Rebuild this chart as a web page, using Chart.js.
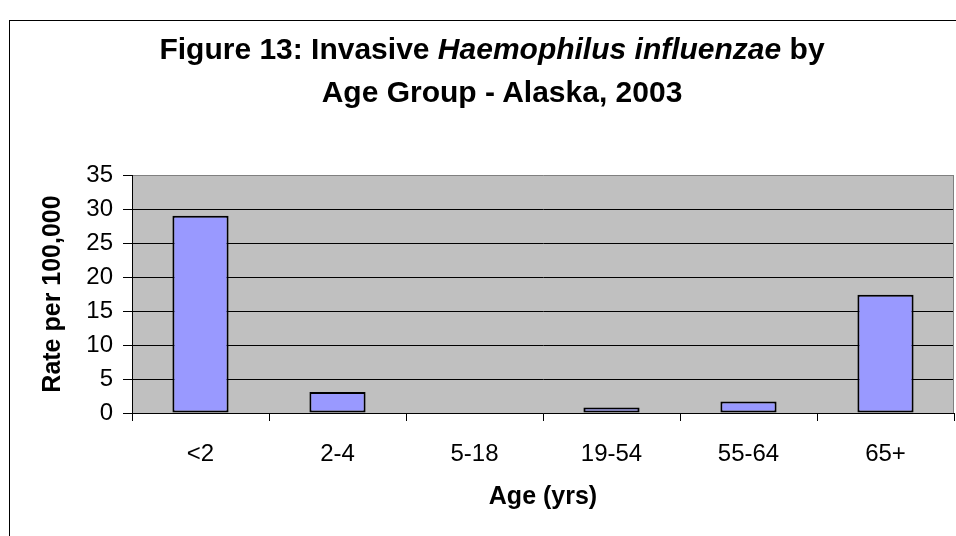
<!DOCTYPE html>
<html>
<head>
<meta charset="utf-8">
<script src="https://cdn.jsdelivr.net/npm/chart.js@4"></script>
<style>
  body { margin: 0; background: #fff; overflow: hidden; }
  #wrap { position: relative; width: 956px; height: 536px; }
  #titulo {
    position: absolute; left: 0; top: 27px; width: 994px;
    text-align: center; font-family: "Liberation Sans", Arial, sans-serif;
    font-weight: bold; font-size: 30px; line-height: 43px; color: #000;
  }
  #titulo div { position: relative; }
  canvas { position: absolute; left: 0; top: 0; }
</style>
</head>
<body>
<div id="wrap">
  <canvas id="myChart" width="956" height="536"></canvas>
  <div id="titulo">
    <div style="left:-5px">Figure 13: Invasive <i>Haemophilus influenzae</i> by</div>
    <div style="left:5px">Age Group - Alaska, 2003</div>
  </div>
</div>
<script>
// datos
const grupos = ['<2', '2-4', '5-18', '19-54', '55-64', '65+']
const tasas = [29.0, 3.1, 0, 0.8, 1.7, 17.4]
const marcasY = [0, 5, 10, 15, 20, 25, 30, 35]

const fuente = '"Liberation Sans", Arial, sans-serif'

// fondo gris del area y marco exterior
const fondo = {
    id: 'fondo',
    beforeDraw(chart) {
        const ctx = chart.ctx
        const a = chart.chartArea
        ctx.save()
        ctx.strokeStyle = '#000'
        ctx.lineWidth = 1
        ctx.strokeRect(9.5, 20.5, 1000, 1000)
        ctx.fillStyle = '#c0c0c0'
        ctx.fillRect(a.left, a.top, a.right - a.left, a.bottom - a.top)
        ctx.restore()
    },
    afterDatasetsDraw(chart) {
        const ctx = chart.ctx
        const a = chart.chartArea
        ctx.save()
        ctx.strokeStyle = '#808080'
        ctx.lineWidth = 1
        ctx.beginPath()
        ctx.moveTo(a.right - 0.5, a.top)
        ctx.lineTo(a.right - 0.5, a.bottom)
        ctx.stroke()
        ctx.restore()
    }
}

const config = {
    type: 'bar',
    data: {
        labels: grupos,
        datasets: [{
            data: tasas,
            backgroundColor: '#9999ff',
            borderColor: '#000',
            borderWidth: 2,
            borderSkipped: false,
            categoryPercentage: 1,
            barPercentage: 0.41
        }]
    },
    options: {
        responsive: false,
        animation: false,
        layout: { padding: { top: 175, right: 2, bottom: 14, left: 0 } },
        plugins: {
            legend: { display: false },
            tooltip: { enabled: false }
        },
        scales: {
            x: {
                offset: true,
                grid: { offset: true, drawOnChartArea: false, tickLength: 8, color: '#000' },
                border: { color: '#000', width: 1 },
                ticks: { color: '#000', padding: 19, font: { family: fuente, size: 24 } },
                title: { display: true, text: 'Age (yrs)', color: '#000', padding: { top: 0, bottom: 10 }, font: { family: fuente, size: 25, weight: 'bold' } },
                afterFit: (s) => { s.height = 536 - 14 - 413 }
            },
            y: {
                min: 0,
                max: 35,
                afterBuildTicks: (s) => { s.ticks = marcasY.map(v => ({ value: v })) },
                grid: {
                    color: (c) => c.tick && c.tick.value === 35 ? '#808080' : '#000',
                    tickColor: '#000',
                    tickLength: 9
                },
                border: { color: '#000', width: 1 },
                ticks: { color: '#000', padding: 10, font: { family: fuente, size: 24 } },
                title: { display: true, text: 'Rate per 100,000', color: '#000', padding: { top: 38, bottom: 0 }, font: { family: fuente, size: 25, weight: 'bold' } },
                afterFit: (s) => { s.width = 132 }
            }
        }
    },
    plugins: [fondo]
}

const myChart = document.getElementById('myChart')
window.myChart = new Chart(myChart, config)
</script>
</body>
</html>
